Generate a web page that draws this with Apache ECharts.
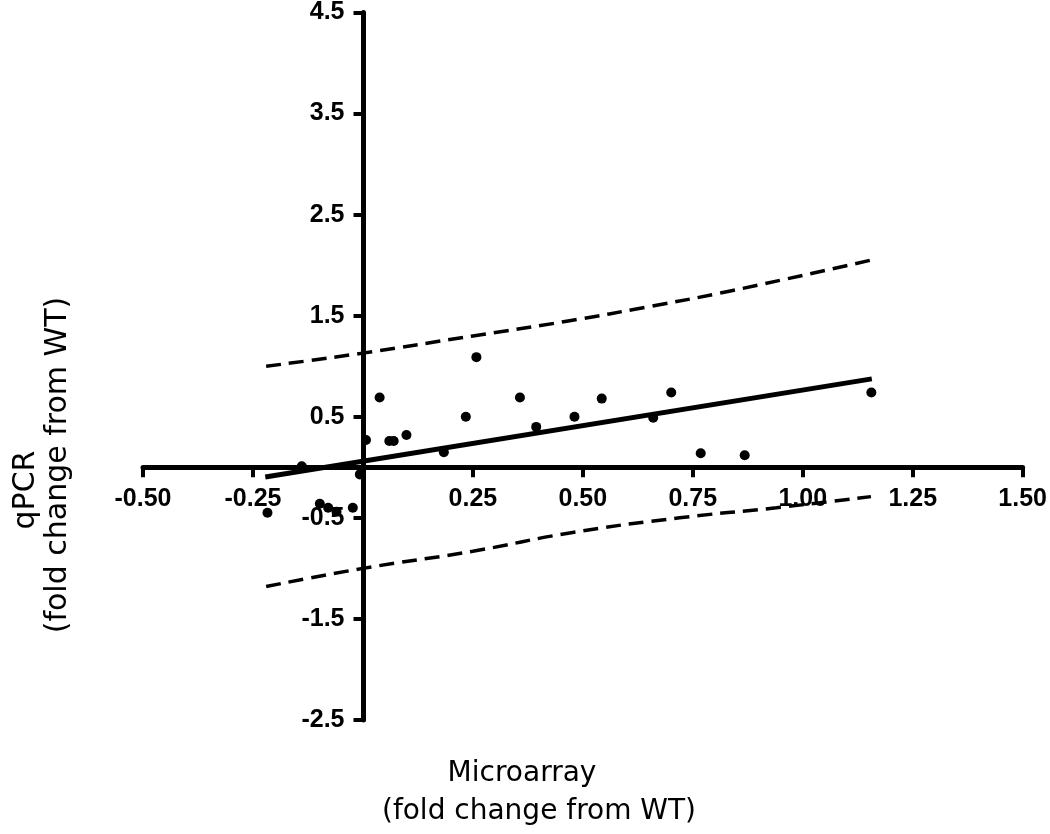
<!DOCTYPE html>
<html>
<head>
<meta charset="utf-8">
<script src="https://cdn.jsdelivr.net/npm/echarts@6/dist/echarts.min.js"></script>
<style>
  html, body { margin: 0; padding: 0; background: #fff; }
  #chart { width: 1050px; height: 834px; }
</style>
</head>
<body>
<div id="chart"></div>
<script>
// fold change values
const microarray = [0.258, 0.038, 0.234, 0.007, 0.060, 0.070, 0.099, 0.184, -0.139, -0.007,
  -0.217, -0.098, -0.079, -0.060, -0.023, 0.357, 0.394, 0.481, 0.543, 0.660,
  0.701, 0.768, 0.868, 1.156];
const qpcr = [1.09, 0.69, 0.50, 0.27, 0.26, 0.26, 0.32, 0.15, 0.01, -0.07,
  -0.45, -0.36, -0.40, -0.44, -0.40, 0.69, 0.40, 0.50, 0.68, 0.49,
  0.74, 0.14, 0.12, 0.74];

// regression line end points
const fitX = [-0.222, 1.157];
const fitY = [-0.095, 0.875];

// dashed prediction bands
const upperX = [-0.22, 0, 0.25, 0.47, 0.65, 0.83, 1.155];
const upperY = [1.00, 1.13, 1.30, 1.45, 1.59, 1.74, 2.05];
const lowerX = [-0.22, 0, 0.25, 0.47, 0.72, 0.94, 1.155];
const lowerY = [-1.18, -1.00, -0.83, -0.65, -0.50, -0.40, -0.29];

const xTicks = [-0.5, -0.25, 0.25, 0.5, 0.75, 1, 1.25, 1.5];
const yTicks = [-2.5, -1.5, -0.5, 0.5, 1.5, 2.5, 3.5, 4.5];

const xMin = -0.5, xMax = 1.5;
const yMin = -2.5, yMax = 4.5;

function zip(xs, ys) {
  return xs.map((x, i) => [x, ys[i]]);
}

const W = 1050, H = 834;
const grid = { left: 143, right: 25, top: 12, bottom: 114 };
// the axes cross at zero, so shift each one in from the grid edge
const gridW = W - grid.left - grid.right;
const gridH = H - grid.top - grid.bottom;
const xAxisOffset = -gridH * (0 - yMin) / (yMax - yMin);
const yAxisOffset = -gridW * (0 - xMin) / (xMax - xMin);

const labelStyle = {
  color: "#000",
  fontFamily: "Liberation Sans",
  fontWeight: "bold",
  fontSize: 25
};
const axisLine = { onZero: false, lineStyle: { color: "#000", width: 5 } };
const axisTick = { length: 10, lineStyle: { color: "#000", width: 4 } };

const chart = echarts.init(document.getElementById("chart"), null, { renderer: "canvas" });

chart.setOption({
  backgroundColor: "#fff",
  animation: false,
  grid: grid,
  xAxis: {
    type: "value",
    min: xMin,
    max: xMax,
    position: "bottom",
    offset: xAxisOffset,
    axisLine: axisLine,
    axisTick: Object.assign({ customValues: xTicks }, axisTick),
    axisLabel: Object.assign({
      customValues: xTicks,
      margin: 19,
      formatter: v => v.toFixed(2)
    }, labelStyle),
    splitLine: { show: false }
  },
  yAxis: {
    type: "value",
    min: yMin,
    max: yMax,
    position: "left",
    offset: yAxisOffset,
    axisLine: axisLine,
    axisTick: Object.assign({ customValues: yTicks }, axisTick),
    axisLabel: Object.assign({
      customValues: yTicks,
      margin: 19,
      formatter: v => v.toFixed(1)
    }, labelStyle),
    splitLine: { show: false }
  },
  series: [
    {
      type: "line",
      data: zip(upperX, upperY),
      smooth: true,
      symbol: "none",
      lineStyle: { color: "#000", width: 3.5, type: [15, 8] },
      z: 3
    },
    {
      type: "line",
      data: zip(lowerX, lowerY),
      smooth: true,
      symbol: "none",
      lineStyle: { color: "#000", width: 3.5, type: [15, 8] },
      z: 3
    },
    {
      type: "line",
      data: zip(fitX, fitY),
      symbol: "none",
      lineStyle: { color: "#000", width: 5 },
      z: 4
    },
    {
      type: "scatter",
      data: zip(microarray, qpcr),
      symbol: "circle",
      symbolSize: 10,
      itemStyle: { color: "#000", opacity: 1 },
      z: 5
    }
  ],
  graphic: [
    {
      type: "text", x: 522, y: 774,
      style: { text: "Microarray", font: "28px 'DejaVu Sans'", fill: "#000", align: "center", verticalAlign: "middle" }
    },
    {
      type: "text", x: 539, y: 812,
      style: { text: "(fold change from WT)", font: "28px 'DejaVu Sans'", fill: "#000", align: "center", verticalAlign: "middle" }
    },
    {
      type: "text", x: 26, y: 490, rotation: Math.PI / 2,
      style: { text: "qPCR", font: "30px 'DejaVu Sans'", fill: "#000", align: "center", verticalAlign: "middle" }
    },
    {
      type: "text", x: 58, y: 465, rotation: Math.PI / 2,
      style: { text: "(fold change from WT)", font: "30px 'DejaVu Sans'", fill: "#000", align: "center", verticalAlign: "middle" }
    }
  ]
});
</script>
</body>
</html>
